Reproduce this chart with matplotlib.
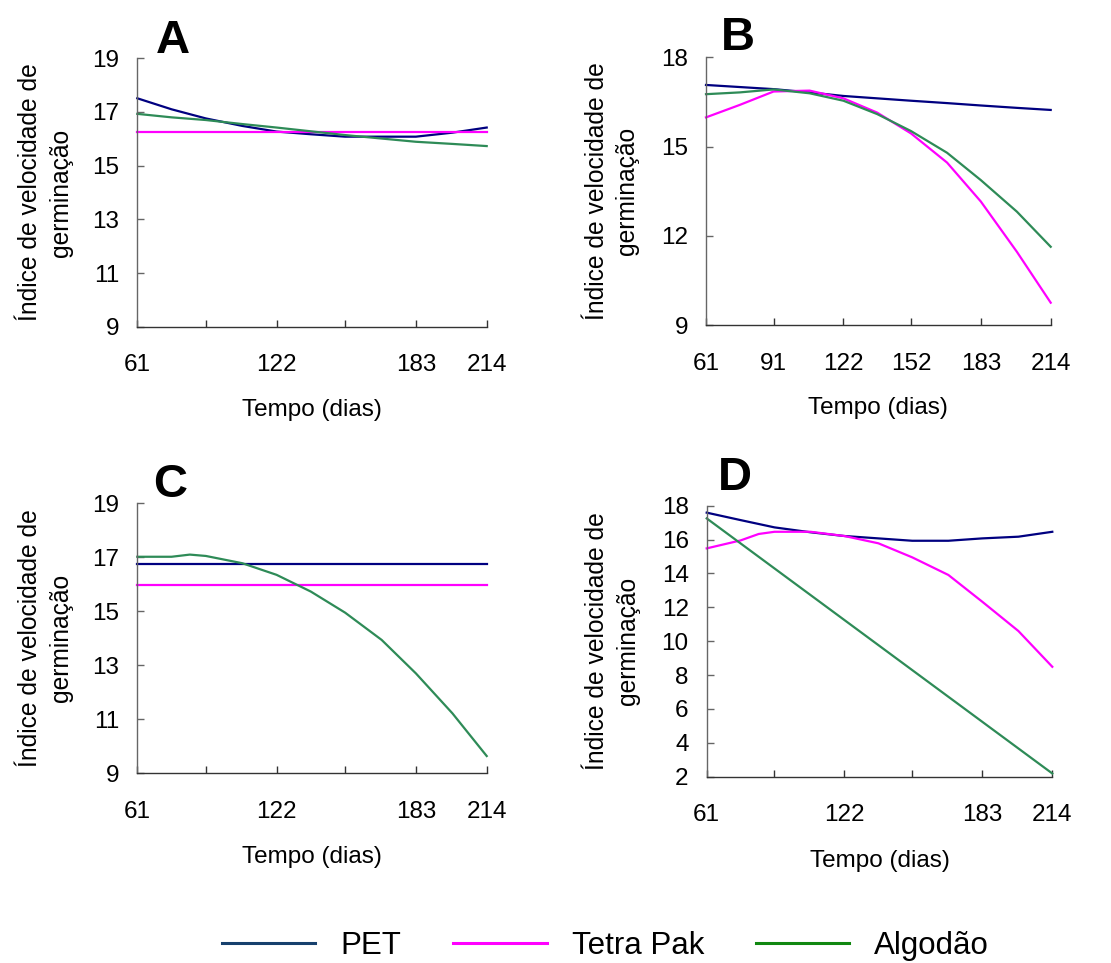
import matplotlib
matplotlib.use("Agg")
import matplotlib.pyplot as plt
from matplotlib.lines import Line2D

plt.rcParams['font.family'] = ['Liberation Sans', 'DejaVu Sans']

# Storage time (days): tick categories and sampling points of the fitted curves
tick_days = [61, 91, 122, 152, 183, 214]
half_days = [61, 76, 91, 107, 122, 137, 152, 168, 183, 199, 214]

# Panel A
a_pet = [17.51, 17.10, 16.76, 16.48, 16.27, 16.17, 16.08, 16.08, 16.08, 16.23, 16.42]
a_tetra = [16.24] * 11
a_algodao = [16.93, 16.80, 16.70, 16.55, 16.42, 16.28, 16.14, 16.01, 15.89, 15.81, 15.73]

# Panel B
b_pet = [17.07, 17.00, 16.93, 16.82, 16.70, 16.62, 16.54, 16.46, 16.38, 16.30, 16.23]
b_tetra = [15.98, 16.40, 16.85, 16.88, 16.62, 16.14, 15.44, 14.46, 13.15, 11.46, 9.75]
b_algodao = [16.76, 16.82, 16.92, 16.79, 16.54, 16.09, 15.52, 14.79, 13.87, 12.81, 11.63]

# Panel C
c_pet = [16.75] * 11
c_tetra = [15.98] * 11
c_algodao_days = [61, 76, 84, 91, 107, 122, 137, 152, 168, 183, 199, 214]
c_algodao = [17.02, 17.02, 17.10, 17.05, 16.78, 16.35, 15.73, 14.95, 13.94, 12.70, 11.22, 9.64]

# Panel D
d_pet = [17.59, 17.15, 16.72, 16.43, 16.21, 16.07, 15.93, 15.93, 16.07, 16.17, 16.46]
d_tetra_days = [61, 76, 84, 91, 107, 122, 137, 152, 168, 183, 199, 214]
d_tetra = [15.48, 15.95, 16.33, 16.46, 16.46, 16.21, 15.78, 14.95, 13.91, 12.33, 10.60, 8.49]
d_algodao_days = [61, 214]
d_algodao = [17.25, 2.19]

series_names = ['PET', 'Tetra Pak', 'Algodão']
line_colors = ['#000080', '#ff00ff', '#2e8b57']
legend_colors = ['#17406d', '#ff00ff', '#118811']

W, H = 1111, 963
fig = plt.figure(figsize=(W / 100, H / 100), dpi=100)


def box(left, top, right, bottom):
    return [left / W, 1 - bottom / H, (right - left) / W, (bottom - top) / H]


panels = [
    dict(rect=box(137.3, 58.3, 486.7, 326.7), letter='A', lpos=(173, 53),
         ylim=(9, 19), yticks=[9, 11, 13, 15, 17, 19],
         xlabels=['61', '', '122', '', '183', '214'], ylx=-0.262,
         data=[(half_days, a_pet), (half_days, a_tetra), (half_days, a_algodao)]),
    dict(rect=box(706.0, 57.3, 1050.7, 325.0), letter='B', lpos=(738, 50),
         ylim=(9, 18), yticks=[9, 12, 15, 18],
         xlabels=['61', '91', '122', '152', '183', '214'], ylx=-0.273,
         data=[(half_days, b_pet), (half_days, b_tetra), (half_days, b_algodao)]),
    dict(rect=box(137.3, 503.3, 486.7, 773.3), letter='C', lpos=(170, 497),
         ylim=(9, 19), yticks=[9, 11, 13, 15, 17, 19],
         xlabels=['61', '', '122', '', '183', '214'], ylx=-0.262,
         data=[(half_days, c_pet), (half_days, c_tetra), (c_algodao_days, c_algodao)]),
    dict(rect=box(706.7, 505.7, 1052.3, 776.7), letter='D', lpos=(735, 490),
         ylim=(2, 18), yticks=[2, 4, 6, 8, 10, 12, 14, 16, 18],
         xlabels=['61', '', '122', '', '183', '214'], ylx=-0.273,
         data=[(half_days, d_pet), (d_tetra_days, d_tetra), (d_algodao_days, d_algodao)]),
]

for p in panels:
    ax = fig.add_axes(p['rect'])
    for (xs, ys), c in zip(p['data'], line_colors):
        ax.plot(xs, ys, color=c, lw=1.6, solid_joinstyle='round', clip_on=False)
    ax.set_xlim(61, 214)
    ax.set_ylim(*p['ylim'])
    ax.set_xticks(tick_days)
    ax.set_xticklabels(p['xlabels'])
    ax.set_yticks(p['yticks'])
    for s in ['top', 'right']:
        ax.spines[s].set_visible(False)
    ax.spines['left'].set_color('#666666')
    ax.spines['bottom'].set_color('#333333')
    ax.spines['left'].set_linewidth(1.0)
    ax.spines['bottom'].set_linewidth(1.0)
    ax.tick_params(axis='x', direction='in', length=5, width=1.0, color='#333333',
                   pad=20, labelsize=17.5)
    ax.tick_params(axis='y', direction='in', length=5, width=1.0, color='#666666',
                   pad=13, labelsize=17.5)
    ax.set_xlabel('Tempo (dias)', fontsize=17.5)
    ax.xaxis.set_label_coords(0.5, -0.31)
    ax.xaxis.label.set_va('center')
    ax.set_ylabel('Índice de velocidade de\ngerminação', fontsize=17.7, linespacing=1.35)
    ax.yaxis.set_label_coords(p['ylx'], 0.5)
    ax.yaxis.label.set_va('center')
    ax.yaxis.label.set_ha('center')
    fig.text(p['lpos'][0] / W, 1 - p['lpos'][1] / H, p['letter'], fontsize=34,
             fontweight='bold', ha='center', va='baseline')

handles = [Line2D([0], [0], color=c, lw=2.2) for c in legend_colors]
fig.legend(handles, series_names, loc='center', bbox_to_anchor=(0.545, 1 - 946 / H),
           ncol=3, frameon=False, fontsize=22.5, handlelength=3.0, handletextpad=0.8,
           columnspacing=1.65, borderpad=0, borderaxespad=0)

fig.savefig('out.png', dpi=100)
